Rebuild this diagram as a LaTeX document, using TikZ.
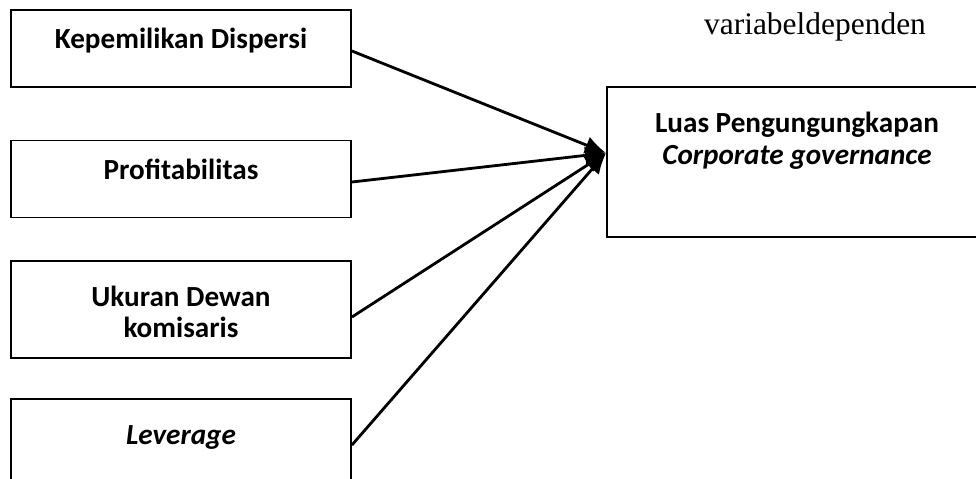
\documentclass[tikz,border=0pt]{standalone}
\usepackage{fontspec}
\setmainfont{Carlito}
\newfontfamily\timesfont{Liberation Serif}
\usepackage{tikz}
\usetikzlibrary{calc, arrows.meta, positioning}

\tikzset{
    varbox/.style={draw, line width=1.1pt, minimum width=6.8cm, minimum height=1.54cm, inner sep=0pt},
    vartext/.style={font=\fontsize{16.6}{18}\selectfont\bfseries, align=center, anchor=center, inner sep=0pt},
    panah/.style={line width=1.6pt, -{Latex[length=0.42cm, width=0.36cm]}}
}

\begin{document}
\begin{tikzpicture}[x=0.02cm, y=-0.02cm]
    \useasboundingbox (0,0) rectangle (976,478);
    \clip (0,0) rectangle (976,478);

    % 1. Variabel independen
    \node[varbox] (disp) at (181,48.5) {};
    \node[varbox] (prof) at (181,179) {};
    \node[varbox, minimum height=1.94cm] (ukur) at (181,309.5) {};
    \node[varbox, minimum height=1.84cm] (lev) at (181,445) {};

    \node[vartext] (disp-t) at ([yshift=-0.64cm]disp.north) {Kepemilikan Dispersi};
    \node[vartext] (prof-t) at ([yshift=-0.6cm]prof.north) {Profitabilitas};
    \node[vartext] (ukur-t) at ([yshift=-1.04cm]ukur.north) {Ukuran Dewan\\komisaris};
    \node[vartext] (lev-t) at ([yshift=-0.78cm]lev.north) {\itshape Leverage};

    % 2. Variabel dependen
    \node[varbox, minimum width=7.6cm, minimum height=3cm] (luas) at (797,162) {};
    \node[vartext] (luas-t) at ([yshift=-1.09cm]luas.north) {Luas Pengungungkapan\\\itshape Corporate governance};
    \node[font=\timesfont\fontsize{17.9}{20}\selectfont, inner sep=0pt] (judul) at (815,27) {variabeldependen};

    % 3. Panah
    \coordinate (tip) at ([yshift=0.18cm]luas.west);
    \draw[panah] ([yshift=-0.05cm]disp.east) -- (tip);
    \draw[panah] ([yshift=-0.06cm]prof.east) -- (tip);
    \draw[panah] ([yshift=-0.15cm]ukur.east) -- (tip);
    \draw[panah] (lev.east) -- (tip);
\end{tikzpicture}
\end{document}
